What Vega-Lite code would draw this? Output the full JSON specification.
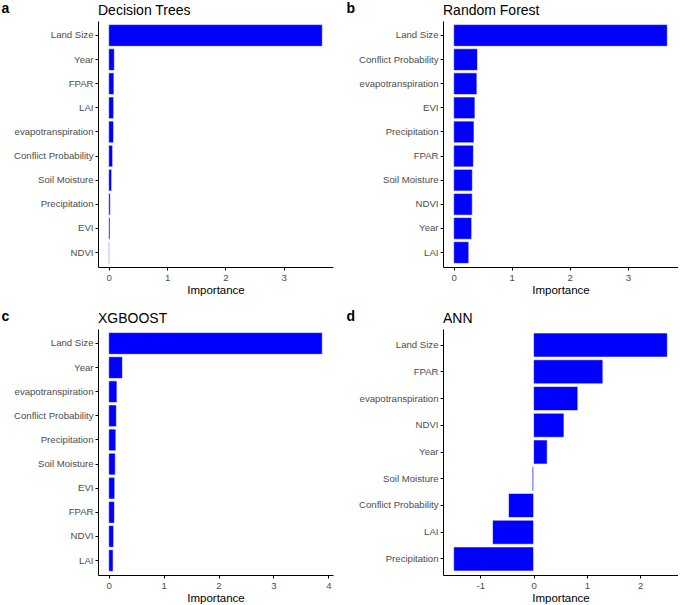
{
  "$schema": "https://vega.github.io/schema/vega-lite/v6.json",
  "padding": {"left": 0, "top": 1, "right": 0, "bottom": 0},
  "data": {
    "values": [
      {"model": "Decision Trees", "feature": "Land Size", "importance": 3.66},
      {"model": "Decision Trees", "feature": "Year", "importance": 0.097},
      {"model": "Decision Trees", "feature": "FPAR", "importance": 0.09},
      {"model": "Decision Trees", "feature": "LAI", "importance": 0.086},
      {"model": "Decision Trees", "feature": "evapotranspiration", "importance": 0.084},
      {"model": "Decision Trees", "feature": "Conflict Probability", "importance": 0.068},
      {"model": "Decision Trees", "feature": "Soil Moisture", "importance": 0.051},
      {"model": "Decision Trees", "feature": "Precipitation", "importance": 0.028},
      {"model": "Decision Trees", "feature": "EVI", "importance": 0.023},
      {"model": "Decision Trees", "feature": "NDVI", "importance": 0.01},
      {"model": "Random Forest", "feature": "Land Size", "importance": 3.68},
      {"model": "Random Forest", "feature": "Conflict Probability", "importance": 0.41},
      {"model": "Random Forest", "feature": "evapotranspiration", "importance": 0.4},
      {"model": "Random Forest", "feature": "EVI", "importance": 0.366},
      {"model": "Random Forest", "feature": "Precipitation", "importance": 0.35},
      {"model": "Random Forest", "feature": "FPAR", "importance": 0.34},
      {"model": "Random Forest", "feature": "Soil Moisture", "importance": 0.322},
      {"model": "Random Forest", "feature": "NDVI", "importance": 0.32},
      {"model": "Random Forest", "feature": "Year", "importance": 0.31},
      {"model": "Random Forest", "feature": "LAI", "importance": 0.26},
      {"model": "XGBOOST", "feature": "Land Size", "importance": 3.89},
      {"model": "XGBOOST", "feature": "Year", "importance": 0.25},
      {"model": "XGBOOST", "feature": "evapotranspiration", "importance": 0.15},
      {"model": "XGBOOST", "feature": "Conflict Probability", "importance": 0.14},
      {"model": "XGBOOST", "feature": "Precipitation", "importance": 0.13},
      {"model": "XGBOOST", "feature": "Soil Moisture", "importance": 0.12},
      {"model": "XGBOOST", "feature": "EVI", "importance": 0.11},
      {"model": "XGBOOST", "feature": "FPAR", "importance": 0.105},
      {"model": "XGBOOST", "feature": "NDVI", "importance": 0.09},
      {"model": "XGBOOST", "feature": "LAI", "importance": 0.08},
      {"model": "ANN", "feature": "Land Size", "importance": 2.51},
      {"model": "ANN", "feature": "FPAR", "importance": 1.3},
      {"model": "ANN", "feature": "evapotranspiration", "importance": 0.83},
      {"model": "ANN", "feature": "NDVI", "importance": 0.57},
      {"model": "ANN", "feature": "Year", "importance": 0.255},
      {"model": "ANN", "feature": "Soil Moisture", "importance": -0.025},
      {"model": "ANN", "feature": "Conflict Probability", "importance": -0.47},
      {"model": "ANN", "feature": "LAI", "importance": -0.77},
      {"model": "ANN", "feature": "Precipitation", "importance": -1.5}
    ]
  },
  "vconcat": [
    {
      "hconcat": [
        {
          "title": "Decision Trees",
          "width": 235,
          "height": 246,
          "transform": [{"filter": "datum.model === 'Decision Trees'"}],
          "mark": {"type": "bar", "color": "#0000FF", "stroke": "white", "strokeWidth": 0.6},
          "encoding": {
            "y": {"field": "feature", "type": "nominal", "sort": null,
                  "scale": {"paddingInner": 0.1, "paddingOuter": 0.15},
                  "axis": {"title": "a"}},
            "x": {"field": "importance", "type": "quantitative",
                  "scale": {"domain": [-0.183, 3.843], "nice": false, "zero": false},
                  "axis": {"values": [0, 1, 2, 3], "title": "Importance"}}
          }
        },
        {
          "title": "Random Forest",
          "width": 235,
          "height": 246,
          "transform": [{"filter": "datum.model === 'Random Forest'"}],
          "mark": {"type": "bar", "color": "#0000FF", "stroke": "white", "strokeWidth": 0.6},
          "encoding": {
            "y": {"field": "feature", "type": "nominal", "sort": null,
                  "scale": {"paddingInner": 0.1, "paddingOuter": 0.15},
                  "axis": {"title": "b"}},
            "x": {"field": "importance", "type": "quantitative",
                  "scale": {"domain": [-0.184, 3.864], "nice": false, "zero": false},
                  "axis": {"values": [0, 1, 2, 3], "title": "Importance"}}
          }
        }
      ],
      "spacing": 12
    },
    {
      "hconcat": [
        {
          "title": "XGBOOST",
          "width": 235,
          "height": 246,
          "transform": [{"filter": "datum.model === 'XGBOOST'"}],
          "mark": {"type": "bar", "color": "#0000FF", "stroke": "white", "strokeWidth": 0.6},
          "encoding": {
            "y": {"field": "feature", "type": "nominal", "sort": null,
                  "scale": {"paddingInner": 0.1, "paddingOuter": 0.15},
                  "axis": {"title": "c"}},
            "x": {"field": "importance", "type": "quantitative",
                  "scale": {"domain": [-0.195, 4.085], "nice": false, "zero": false},
                  "axis": {"values": [0, 1, 2, 3, 4], "title": "Importance"}}
          }
        },
        {
          "title": "ANN",
          "width": 235,
          "height": 246,
          "transform": [{"filter": "datum.model === 'ANN'"}],
          "mark": {"type": "bar", "color": "#0000FF", "stroke": "white", "strokeWidth": 0.6},
          "encoding": {
            "y": {"field": "feature", "type": "nominal", "sort": null,
                  "scale": {"paddingInner": 0.1, "paddingOuter": 0.15},
                  "axis": {"title": "d"}},
            "x": {"field": "importance", "type": "quantitative",
                  "scale": {"domain": [-1.7, 2.71], "nice": false, "zero": false},
                  "axis": {"values": [-1, 0, 1, 2], "title": "Importance"}}
          }
        }
      ],
      "spacing": 12
    }
  ],
  "spacing": 12,
  "config": {
    "font": "Liberation Sans",
    "view": {"stroke": null},
    "axis": {
      "grid": false,
      "domainColor": "black",
      "domainWidth": 1,
      "tickColor": "black",
      "tickWidth": 1,
      "tickSize": 3,
      "labelColor": "#4D4D4D",
      "labelFontSize": 9.6,
      "labelPadding": 2,
      "titleColor": "black",
      "titleFontWeight": "normal"
    },
    "axisX": {
      "titleFontSize": 11.5,
      "titlePadding": 3,
      "labelExpr": "'' + datum.value"
    },
    "axisY": {
      "minExtent": 98,
      "maxExtent": 98,
      "titleAngle": 0,
      "titleX": -97,
      "titleY": -9,
      "titleAlign": "left",
      "titleBaseline": "alphabetic",
      "titleFontWeight": "bold",
      "titleFontSize": 14
    },
    "title": {
      "anchor": "start",
      "frame": "group",
      "fontSize": 14,
      "fontWeight": "normal",
      "baseline": "alphabetic",
      "offset": -17,
      "color": "black"
    }
  }
}
